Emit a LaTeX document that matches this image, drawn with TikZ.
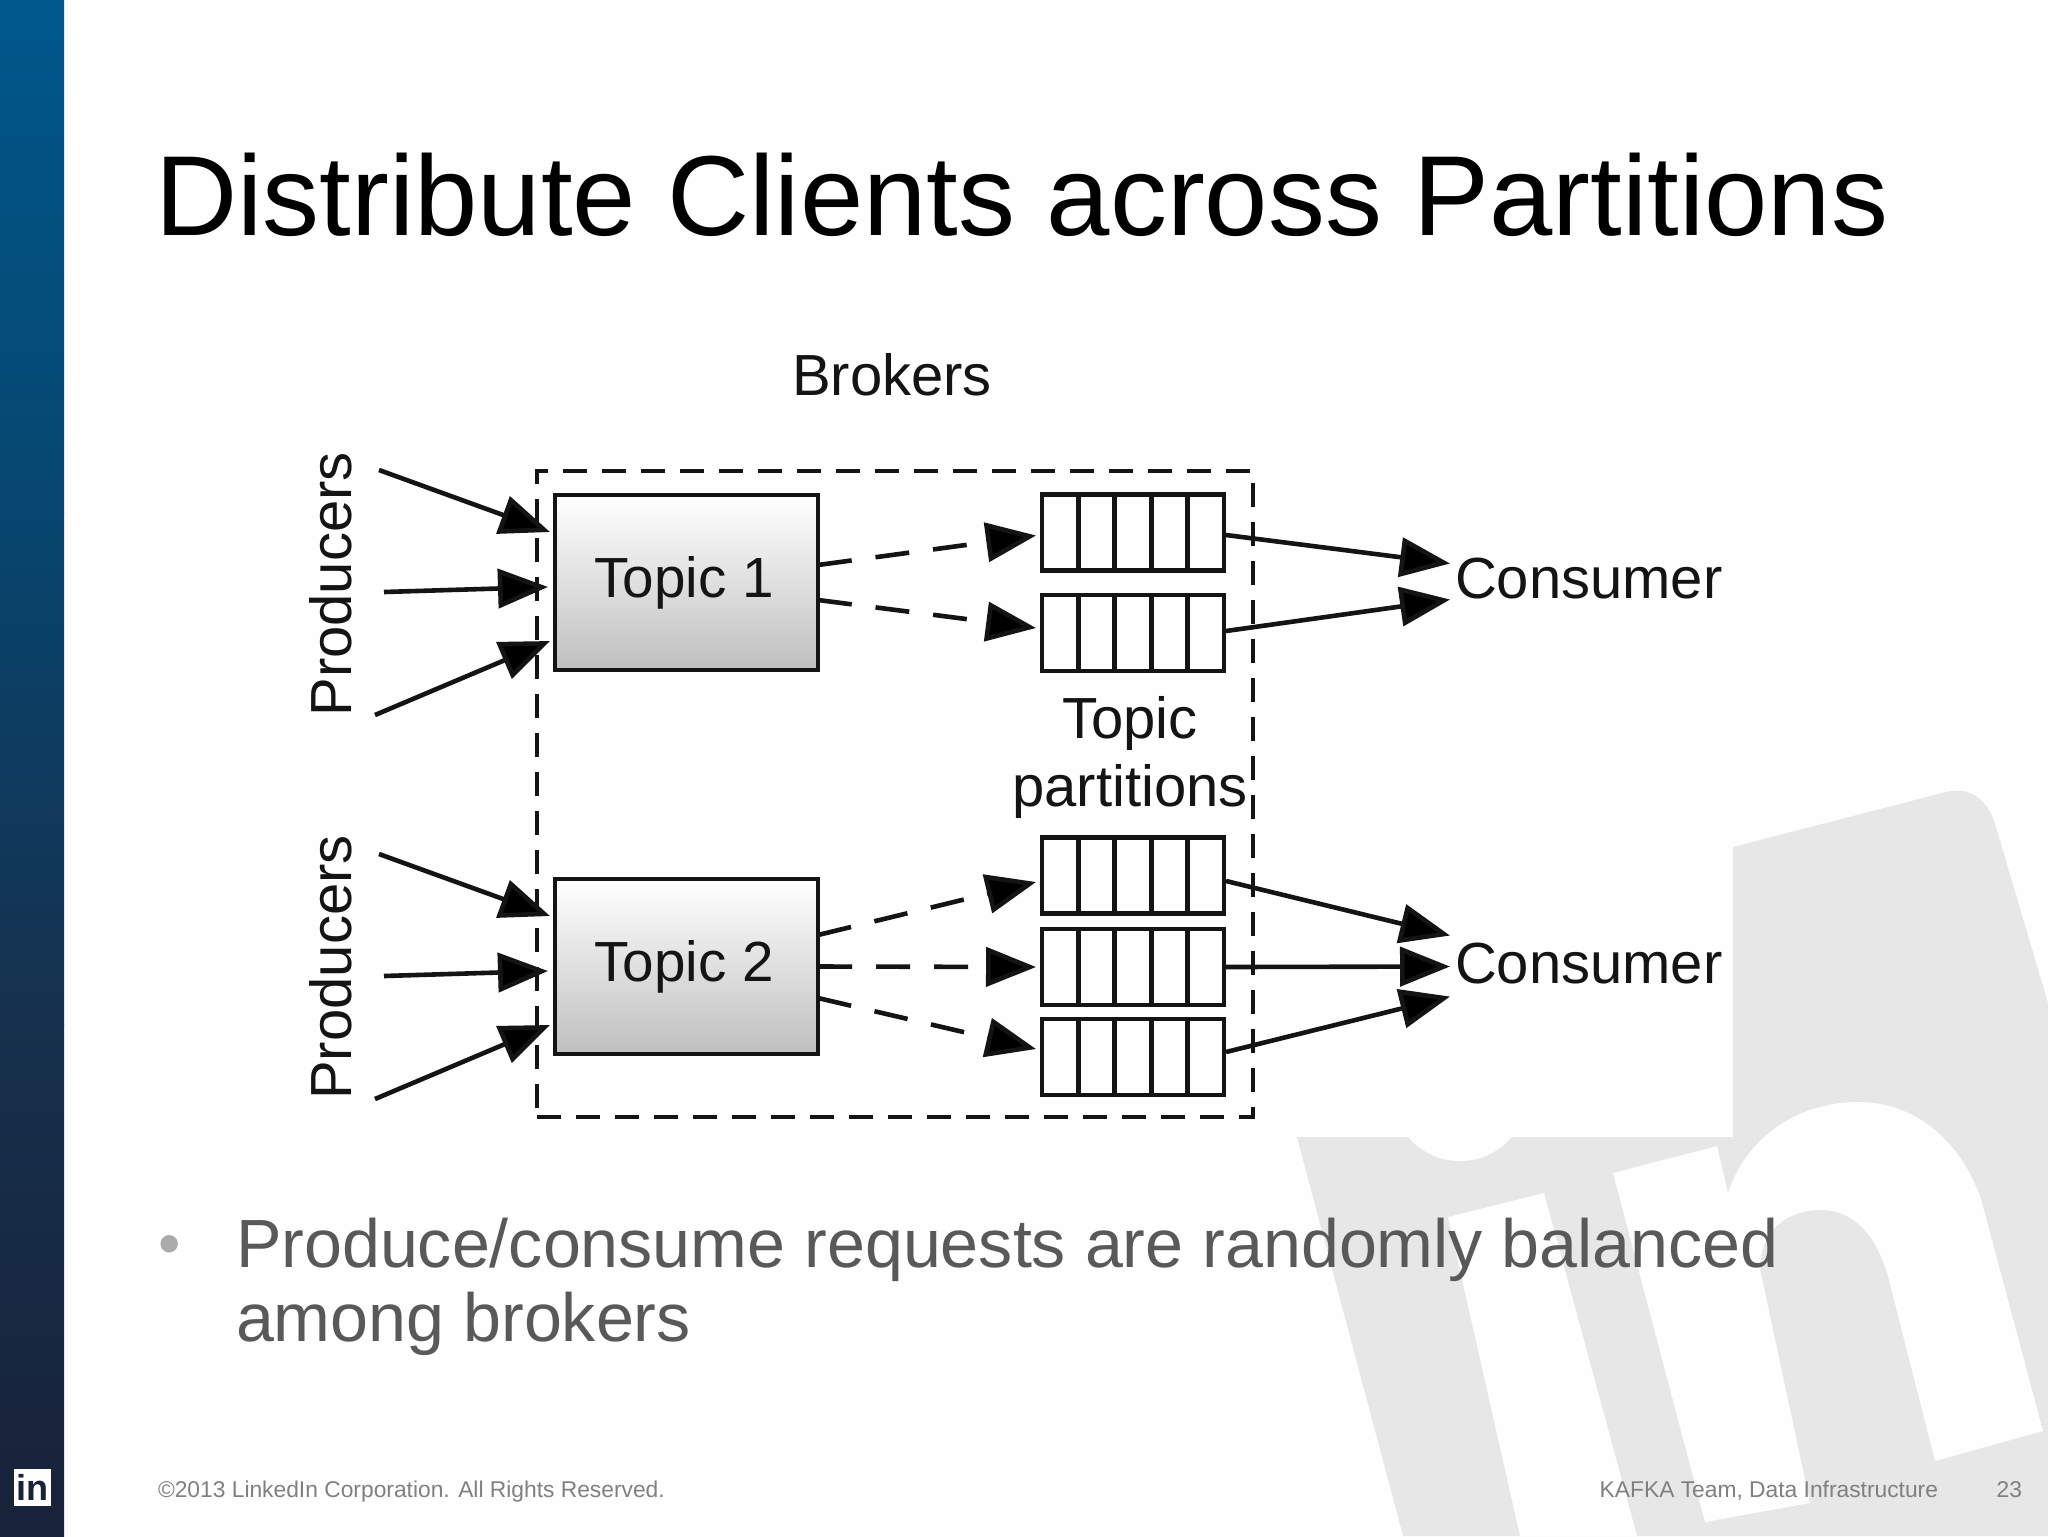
\documentclass[tikz,border=0pt]{standalone}
\usepackage{fontspec}
\setmainfont{Liberation Sans}
\usetikzlibrary{calc,arrows.meta}
\definecolor{wm}{HTML}{E6E7E6}
\definecolor{bodytxt}{HTML}{58595B}
\definecolor{foot}{HTML}{808080}
\definecolor{ink}{HTML}{141414}
\definecolor{sidea}{HTML}{00588C}
\definecolor{sideb}{HTML}{07466F}
\definecolor{sidec}{HTML}{16304D}
\definecolor{sided}{HTML}{182238}
\definecolor{paper}{HTML}{FEFEFE}
\tikzset{
  txt/.style={inner sep=0pt,outer sep=0pt,text=ink,font=\fontsize{29}{34}\selectfont},
  topic/.style={draw=ink,line width=2.4pt,top color=white,bottom color=black!25,minimum width=131.5pt,minimum height=87.5pt,inner sep=0pt,outer sep=0pt,text=ink,font=\fontsize{28.3}{34}\selectfont},
  part/.style={draw=ink,line width=2.4pt,fill=paper,minimum width=91pt,minimum height=38pt,inner sep=0pt,outer sep=0pt},
  brk/.style={draw=ink,line width=2.3pt,dash pattern=on 12pt off 7.5pt,minimum width=358pt,minimum height=323pt,inner sep=0pt,outer sep=0pt},
  solidarr/.style={draw=ink,line width=2.3pt,-{Triangle[length=25pt,width=19.5pt,fill=black]}},
  dasharr/.style={solidarr,dash pattern=on 17pt off 12pt},
  foottxt/.style={inner sep=0pt,outer sep=0pt,text=foot,font=\fontsize{11.4}{14}\selectfont},
  bodyline/.style={inner sep=0pt,outer sep=0pt,text=bodytxt,font=\fontsize{34.1}{44}\selectfont},
}
\newcommand{\cells}[1]{\foreach \f in {0.2,0.4,0.6,0.8}{\draw[ink,line width=2.4pt] ($(#1.north west)!\f!(#1.north east)$) -- ($(#1.south west)!\f!(#1.south east)$);}}
\begin{document}
\begin{tikzpicture}[x=0.5pt,y=-0.5pt]
\useasboundingbox (0,0) rectangle (2048,1536);
\clip (0,0) rectangle (2048,1536);
\fill[paper] (0,0) rectangle (2048,1536);
% watermark
\fill[wm] (1297,1137) -- (1733,1137) -- (1733,847) -- (1946,792) .. controls (1970,786) and (1988,800) .. (1995,824) -- (2048,1003) -- (2048,1536) -- (1403,1536) -- cycle;
\fill[paper] (0,0) rectangle (1733,1137);
\fill[paper] (1460,1093) circle (68);
\fill[paper] (1448,1217) -- (1544,1193) -- (1637,1536) -- (1520,1536) -- cycle;
\fill[paper] (1613,1173) -- (1717,1146) -- (1728,1193)
  .. controls (1745,1140) and (1795,1102) .. (1858,1102)
  .. controls (1915,1102) and (1960,1140) .. (1981,1199)
  -- (2043,1431) -- (1935,1461) -- (1888,1276)
  .. controls (1875,1232) and (1852,1210) .. (1821,1210)
  .. controls (1785,1210) and (1760,1232) .. (1760,1269)
  -- (1810,1503) -- (1705,1522) -- cycle;
% sidebar
\shade[top color=sidea,bottom color=sideb] (0,0) rectangle (64,512.5);
\shade[top color=sideb,bottom color=sidec] (0,512) rectangle (64,1024.5);
\shade[top color=sidec,bottom color=sided] (0,1024) rectangle (64,1536);
\node[fill=white,minimum width=18.5pt,minimum height=18.5pt,inner sep=0pt,text=sided,font=\bfseries\fontsize{18}{18}\selectfont] (logo) at (32,1487.5) {in};
% title
\node[anchor=base west,inner sep=0pt,text=black,font=\fontsize{56.9}{60}\selectfont] (title) at (155,235) {Distribute Clients across Partitions};
% diagram
\node[txt,anchor=base] (brokers) at (892,395) {Brokers};
\node[brk] (box) at (895,794) {};
\node[topic] (t1) at (686.5,582.5) {\raisebox{-3.2pt}{\hspace{-2.5pt}Topic 1}};
\node[topic] (t2) at (686.5,966.5) {\raisebox{-3.2pt}{\hspace{-2.5pt}Topic 2}};
\node[part] (p1) at (1133,532.5) {};
\node[part] (p2) at (1133,633) {};
\node[part] (p3) at (1133,875.5) {};
\node[part] (p4) at (1133,967) {};
\node[part] (p5) at (1133,1057) {};
\cells{p1}\cells{p2}\cells{p3}\cells{p4}\cells{p5}
\node[txt,align=center] (tp) at (1130,757.5) {Topic\\partitions};
\node[txt,anchor=base west] (c1) at (1455,598.5) {Consumer};
\node[txt,anchor=base west] (c2) at (1455,983.5) {Consumer};
\node[txt,rotate=90,anchor=base] (pr1) at (351,584.5) {Producers};
\node[txt,rotate=90,anchor=base] (pr2) at (351,967.5) {Producers};
% free ends
\coordinate (s1) at (379,470);
\coordinate (s2) at (384,592);
\coordinate (s3) at (375,715);
\coordinate (s4) at (379,854);
\coordinate (s5) at (384,976);
\coordinate (s6) at (375,1099);
% producer arrows
\draw[solidarr] (s1) -- ($(t1.west)+(-5,-50.5)$);
\draw[solidarr] (s2) -- ($(t1.west)+(-7,4.5)$);
\draw[solidarr] (s3) -- ($(t1.west)+(-5,58.5)$);
\draw[solidarr] (s4) -- ($(t2.west)+(-5,-50.5)$);
\draw[solidarr] (s5) -- ($(t2.west)+(-7,4.5)$);
\draw[solidarr] (s6) -- ($(t2.west)+(-5,58.5)$);
% topic to partition
\draw[dasharr] ($(t1.east)+(0,-17.5)$) -- ($(p1.west)+(-6,3)$);
\draw[dasharr] ($(t1.east)+(0,17.5)$) -- ($(p2.west)+(-6,-5)$);
\draw[dasharr] ($(t2.east)+(0,-31.5)$) -- ($(p3.west)+(-6,6.5)$);
\draw[dasharr] ($(t2.east)+(0,0)$) -- ($(p4.west)+(-6,0)$);
\draw[dasharr] ($(t2.east)+(0,31.5)$) -- ($(p5.west)+(-6,-8)$);
% partition to consumer
\draw[solidarr] ($(p1.east)+(2,2.5)$) -- ($(c1.west)+(-5,-15)$);
\draw[solidarr] ($(p2.east)+(2,-2)$) -- ($(c1.west)+(-5,21)$);
\draw[solidarr] ($(p3.east)+(2,5.5)$) -- ($(c2.west)+(-5,-28)$);
\draw[solidarr] ($(p4.east)+(2,0)$) -- ($(c2.west)+(-5,3)$);
\draw[solidarr] ($(p5.east)+(2,-5)$) -- ($(c2.west)+(-5,33)$);
% bullets
\node[inner sep=0pt,text=black!33,anchor=base west,font=\fontsize{32}{44}\selectfont] (bul) at (158,1265) {•};
\node[bodyline,anchor=base west] (b1) at (236,1267) {Produce/consume requests are randomly balanced};
\node[bodyline,anchor=base west] (b2) at (236,1341) {among brokers};
% footer
\node[foottxt,anchor=base west] (fl) at (158,1497) {©2013 LinkedIn Corporation. All Rights Reserved.};
\node[foottxt,anchor=base east] (fr) at (1938,1497) {KAFKA Team, Data Infrastructure};
\node[foottxt,anchor=base east] (fn) at (2022,1497) {23};
\end{tikzpicture}
\end{document}
